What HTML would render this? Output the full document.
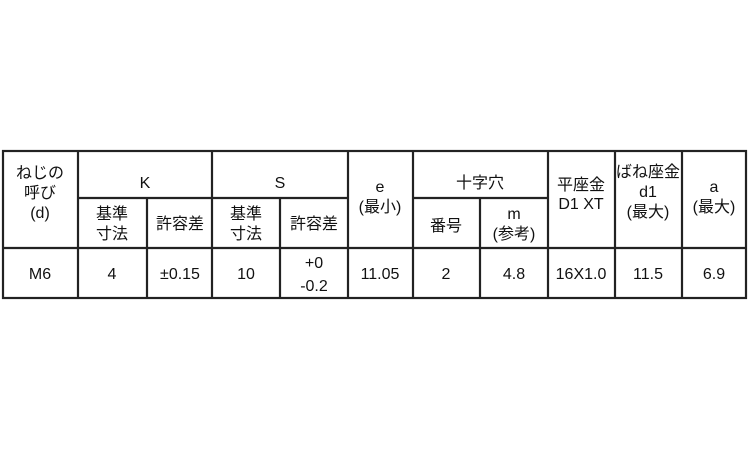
<!DOCTYPE html>
<html><head><meta charset="utf-8"><style>
html,body{margin:0;padding:0;background:#fff;width:750px;height:450px;overflow:hidden}
svg{display:block}
text{font-family:"Liberation Sans","Noto Sans CJK JP",sans-serif;font-size:16px;fill:#111;text-anchor:middle}
</style></head><body>
<svg width="750" height="450" viewBox="0 0 750 450">
<g stroke="#222" stroke-width="2.2" fill="none">
<rect x="3" y="151" width="743" height="147"/>
<line x1="3" y1="248" x2="746" y2="248"/>
<line x1="78" y1="198" x2="348" y2="198"/>
<line x1="413" y1="198" x2="548" y2="198"/>
<line x1="78" y1="151" x2="78" y2="298"/>
<line x1="147" y1="198" x2="147" y2="298"/>
<line x1="212" y1="151" x2="212" y2="298"/>
<line x1="280" y1="198" x2="280" y2="298"/>
<line x1="348" y1="151" x2="348" y2="298"/>
<line x1="413" y1="151" x2="413" y2="298"/>
<line x1="480" y1="198" x2="480" y2="298"/>
<line x1="548" y1="151" x2="548" y2="298"/>
<line x1="615" y1="151" x2="615" y2="298"/>
<line x1="682" y1="151" x2="682" y2="298"/>
</g>
<text x="40" y="178">ねじの</text>
<text x="40" y="198">呼び</text>
<text x="40" y="218">(d)</text>
<text x="145" y="188">K</text>
<text x="280" y="188">S</text>
<text x="112" y="219">基準</text><text x="112" y="239">寸法</text>
<text x="180" y="229">許容差</text>
<text x="246" y="219">基準</text><text x="246" y="239">寸法</text>
<text x="314" y="229">許容差</text>
<text x="380" y="192">e</text><text x="380" y="212">(最小)</text>
<text x="480" y="188">十字穴</text>
<text x="446" y="231">番号</text>
<text x="514" y="219">m</text><text x="514" y="239">(参考)</text>
<text x="581" y="190">平座金</text><text x="581" y="209">D1 XT</text>
<text x="648" y="177">ばね座金</text><text x="648" y="197">d1</text><text x="648" y="217">(最大)</text>
<text x="714" y="192">a</text><text x="714" y="212">(最大)</text>
<text x="40" y="279">M6</text>
<text x="112" y="279">4</text>
<text x="180" y="279">±0.15</text>
<text x="246" y="279">10</text>
<text x="314" y="268">+0</text><text x="314" y="291">-0.2</text>
<text x="380" y="279">11.05</text>
<text x="446" y="279">2</text>
<text x="514" y="279">4.8</text>
<text x="581" y="279">16X1.0</text>
<text x="648" y="279">11.5</text>
<text x="714" y="279">6.9</text>
</svg>
</body></html>
